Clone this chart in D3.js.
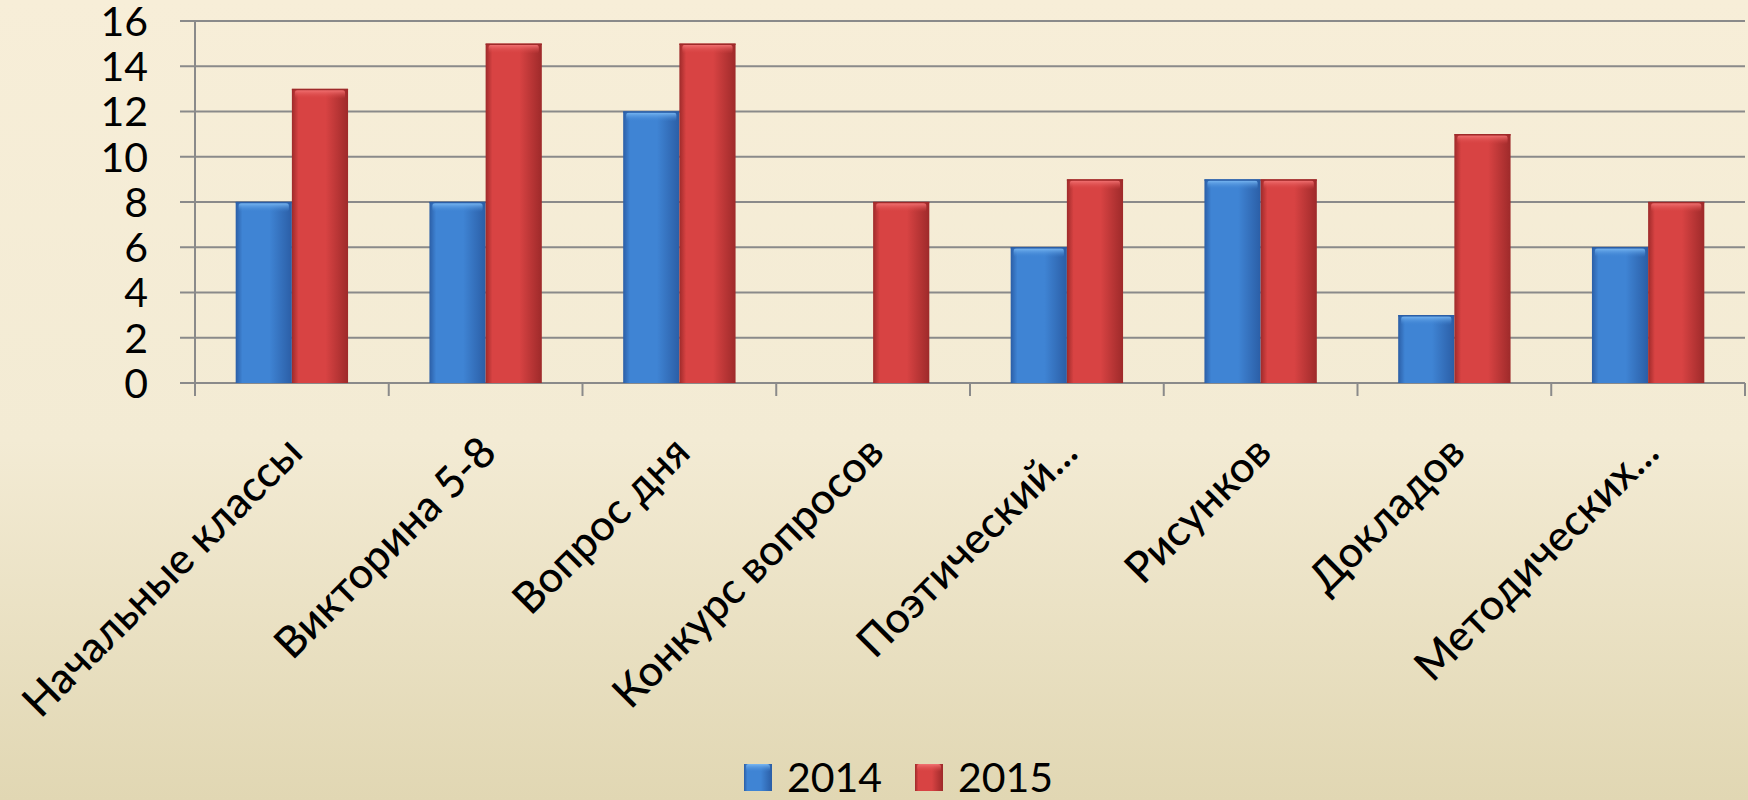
<!DOCTYPE html>
<html>
<head>
<meta charset="utf-8">
<script src="https://cdn.jsdelivr.net/npm/d3@7"></script>
<style>
  body { margin: 0; }
  svg { display: block; }
  text { font-family: Lato, "Open Sans", sans-serif; fill: #000; }
</style>
</head>
<body>
<svg id="chart" width="1748" height="800"></svg>
<script>
// ##### Data
var categories = ['Начальные классы', 'Викторина 5-8', 'Вопрос дня', 'Конкурс вопросов',
  'Поэтический...', 'Рисунков', 'Докладов', 'Методических...'];
var seriesNames = ['2014', '2015'];
var values2014 = [8, 8, 12, 0, 6, 9, 3, 6];
var values2015 = [13, 15, 15, 8, 9, 9, 11, 8];
var yTicks = [0, 2, 4, 6, 8, 10, 12, 14, 16];

var seriesValues = [values2014, values2015];
var seriesIds = ['blue', 'red'];

// ##### Setup
var svg = d3.select('#chart'),
  width = 1748,
  height = 800;

var margin = {left: 195, right: 3, top: 21, bottom: 417};
var plotW = width - margin.left - margin.right;
var plotH = height - margin.top - margin.bottom;

var defs = svg.append('defs');

// background gradient
var bg = defs.append('linearGradient').attr('id', 'bg')
  .attr('x1', 0).attr('y1', 0).attr('x2', 0).attr('y2', 1);
bg.append('stop').attr('offset', '0%').attr('stop-color', '#f7eed8');
bg.append('stop').attr('offset', '55%').attr('stop-color', '#f3ebd4');
bg.append('stop').attr('offset', '100%').attr('stop-color', '#e1d7b3');

// bar gradients (horizontal shading)
var barColours = {
  blue: {edge: '#2b5ea6', mid: '#3f84d4', top: '#7ab8f2'},
  red: {edge: '#9e2a2a', mid: '#d84343', top: '#f27474'}
};
Object.keys(barColours).forEach(function(k) {
  var c = barColours[k];
  var gr = defs.append('linearGradient').attr('id', 'grad-' + k)
    .attr('x1', 0).attr('y1', 0).attr('x2', 1).attr('y2', 0);
  gr.append('stop').attr('offset', '0%').attr('stop-color', c.edge);
  gr.append('stop').attr('offset', '12%').attr('stop-color', c.mid);
  gr.append('stop').attr('offset', '60%').attr('stop-color', c.mid);
  gr.append('stop').attr('offset', '100%').attr('stop-color', c.edge);
  var tg = defs.append('linearGradient').attr('id', 'top-' + k)
    .attr('x1', 0).attr('y1', 0).attr('x2', 0).attr('y2', 1);
  tg.append('stop').attr('offset', '0%').attr('stop-color', c.top);
  tg.append('stop').attr('offset', '100%').attr('stop-color', c.mid).attr('stop-opacity', 0);
});

svg.append('rect').attr('width', width).attr('height', height).attr('fill', 'url(#bg)');

var g = svg.append('g').attr('transform', 'translate(' + margin.left + ',' + margin.top + ')');

// ##### Scales
var x0 = d3.scaleBand().domain(categories).range([0, plotW]).paddingInner(0).paddingOuter(0);
var groupW = x0.bandwidth() * 0.58;
var x1 = d3.scaleBand().domain(seriesNames).range([0, groupW]).padding(0);
var y = d3.scaleLinear().domain([0, 16]).range([plotH, 0]);

// ##### Gridlines and axes
g.append('g').attr('class', 'grid')
  .selectAll('line').data(yTicks).enter().append('line')
  .attr('x1', -15).attr('x2', plotW)
  .attr('y1', function(d) { return y(d); })
  .attr('y2', function(d) { return y(d); })
  .attr('stroke', '#8a8a8a').attr('stroke-width', 2);

// y axis line
g.append('line').attr('x1', 0).attr('x2', 0).attr('y1', 0).attr('y2', plotH + 13)
  .attr('stroke', '#8a8a8a').attr('stroke-width', 2);

// category ticks
g.append('g').selectAll('line').data(d3.range(1, categories.length + 1)).enter().append('line')
  .attr('x1', function(i) { return i * x0.step(); })
  .attr('x2', function(i) { return i * x0.step(); })
  .attr('y1', plotH).attr('y2', plotH + 13)
  .attr('stroke', '#8a8a8a').attr('stroke-width', 2);

// y tick labels
g.append('g').selectAll('text').data(yTicks).enter().append('text')
  .attr('x', -47).attr('y', function(d) { return y(d); })
  .attr('dy', '0.36em')
  .attr('text-anchor', 'end')
  .style('font-size', '41px')
  .text(function(d) { return d; });

// ##### Bars
var groups = g.append('g').selectAll('g').data(categories).enter().append('g')
  .attr('transform', function(d) {
    return 'translate(' + (x0(d) + (x0.bandwidth() - groupW) / 2) + ',0)';
  });

seriesNames.forEach(function(s, si) {
  var key = seriesIds[si];
  var bars = groups.append('g').datum(function(d, i) { return {v: seriesValues[si][i], s: s}; })
    .filter(function(d) { return d.v > 0; });
  bars.append('rect')
    .attr('x', x1(s)).attr('width', x1.bandwidth())
    .attr('y', function(d) { return y(d.v); })
    .attr('height', function(d) { return plotH - y(d.v); })
    .attr('fill', 'url(#grad-' + key + ')');
  bars.append('rect')
    .attr('x', x1(s) + 3).attr('width', x1.bandwidth() - 6)
    .attr('y', function(d) { return y(d.v) + 1; })
    .attr('height', 9).attr('rx', 3)
    .attr('fill', 'url(#top-' + key + ')');
  bars.append('line')
    .attr('x1', x1(s)).attr('x2', x1(s) + x1.bandwidth())
    .attr('y1', function(d) { return y(d.v) + 0.5; })
    .attr('y2', function(d) { return y(d.v) + 0.5; })
    .attr('stroke', barColours[key].edge).attr('stroke-width', 1.5);
});

// ##### Category labels (rotated)
g.append('g').selectAll('text').data(categories).enter().append('text')
  .attr('transform', function(d) {
    return 'translate(' + (x0(d) + x0.bandwidth() / 2 + 2) + ',' + (plotH + 61) + ') rotate(-45)';
  })
  .attr('text-anchor', 'end')
  .attr('dy', '0.36em')
  .style('font-size', '43px')
  .style('font-weight', 500)
  .text(function(d) { return d; });

// ##### Legend
var legend = svg.append('g').attr('transform', 'translate(744,764)');
var legendItems = legend.selectAll('g').data(seriesNames).enter().append('g')
  .attr('transform', function(d, i) { return 'translate(' + (i * 171) + ',0)'; });
legendItems.append('rect')
  .attr('width', 28).attr('height', 27)
  .attr('fill', function(d, i) { return 'url(#grad-' + seriesIds[i] + ')'; });
legendItems.append('rect')
  .attr('x', 2).attr('width', 24).attr('height', 8).attr('rx', 3)
  .attr('fill', function(d, i) { return 'url(#top-' + seriesIds[i] + ')'; });
legendItems.append('text')
  .attr('x', 43).attr('y', 28)
  .style('font-size', '41px')
  .text(function(d) { return d; });
</script>
</body>
</html>
